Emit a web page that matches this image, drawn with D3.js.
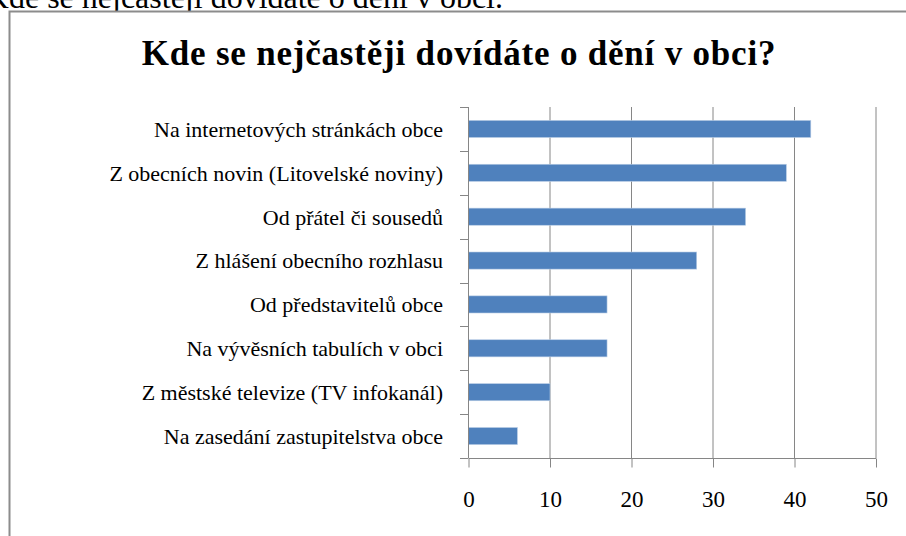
<!DOCTYPE html>
<html>
<head>
<meta charset="utf-8">
<script src="https://cdn.jsdelivr.net/npm/d3@7"></script>
<style>
  body { margin: 0; background: #fff; }
  svg text { font-family: "Liberation Serif", "Times New Roman", serif; fill: #000; }
</style>
</head>
<body>
<div id="chart"></div>
<script>
/* data */
const categories = [
  'Na internetových stránkách obce',
  'Z obecních novin (Litovelské noviny)',
  'Od přátel či sousedů',
  'Z hlášení obecního rozhlasu',
  'Od představitelů obce',
  'Na vývěsních tabulích v obci',
  'Z městské televize (TV infokanál)',
  'Na zasedání zastupitelstva obce'
];
const values = [42, 39, 34, 28, 17, 17, 10, 6];
const xTicks = [0, 10, 20, 30, 40, 50];
const title = 'Kde se nejčastěji dovídáte o dění v obci?';

const W = 906, H = 536;
const plot = {left: 468, right: 875.5, top: 107, bottom: 458};
const gridColor = '#868686';

const svg = d3.select('#chart').append('svg').attr('width', W).attr('height', H);

// caption line of the page above, cut by the window edge
svg.append('text').attr('x', 503).attr('y', 8).attr('text-anchor', 'end')
  .style('font-size', '32px').text(title.replace('?', '.'));

// chart frame (runs past the right and bottom edge)
svg.append('rect').attr('x', 9.5).attr('y', 11.5).attr('width', 1000).attr('height', 600)
  .attr('fill', '#fff').attr('stroke', '#8c8c8c').attr('stroke-width', 2);

svg.append('text').attr('x', 459).attr('y', 65).attr('text-anchor', 'middle')
  .style('font-size', '35px').style('font-weight', 'bold').style('letter-spacing', '0.8px').text(title);

const x = d3.scaleLinear().domain([0, 50]).range([plot.left, plot.right]);
const y = d3.scaleBand().domain(categories).range([plot.top, plot.bottom]).paddingInner(0.61).paddingOuter(0.305);

/* gridlines */
svg.append('g').selectAll('line').data(xTicks).join('line')
  .attr('x1', d => x(d) + 0.5).attr('x2', d => x(d) + 0.5)
  .attr('y1', plot.top).attr('y2', plot.bottom)
  .attr('stroke', gridColor);

/* bars */
svg.append('g').selectAll('rect').data(values).join('rect')
  .attr('x', x(0) + 0.5).attr('y', (d, i) => y(categories[i]))
  .attr('width', d => x(d) - x(0)).attr('height', y.bandwidth())
  .attr('fill', '#4f81bd').attr('stroke', '#b9cde5').attr('stroke-width', 0.6);

/* x axis */
const xAxis = d3.axisBottom(x).tickValues(xTicks).tickSize(9).tickPadding(23).tickFormat(d3.format('d'));
const gx = svg.append('g').attr('transform', `translate(0.5,${plot.bottom + 0.5})`).call(xAxis);
gx.select('.domain').attr('stroke', gridColor).attr('d', `M${plot.left},0H${plot.right}`);
gx.selectAll('.tick line').attr('stroke', gridColor);
gx.selectAll('.tick text').style('font-size', '23px').attr('fill', '#000');

/* category axis: ticks sit between categories */
const step = (plot.bottom - plot.top) / categories.length;
const gy = svg.append('g');
gy.append('line').attr('x1', plot.left + 0.5).attr('x2', plot.left + 0.5)
  .attr('y1', plot.top).attr('y2', plot.bottom).attr('stroke', gridColor);
gy.selectAll('line.tk').data(d3.range(categories.length + 1)).join('line').attr('class', 'tk')
  .attr('x1', plot.left - 8).attr('x2', plot.left)
  .attr('y1', i => Math.round(plot.top + i * step) + 0.5).attr('y2', i => Math.round(plot.top + i * step) + 0.5)
  .attr('stroke', gridColor);
gy.selectAll('text').data(categories).join('text')
  .attr('x', 443).attr('y', d => y(d) + y.bandwidth() / 2).attr('dy', '0.36em')
  .attr('text-anchor', 'end').style('font-size', '22px').text(d => d);
</script>
</body>
</html>
